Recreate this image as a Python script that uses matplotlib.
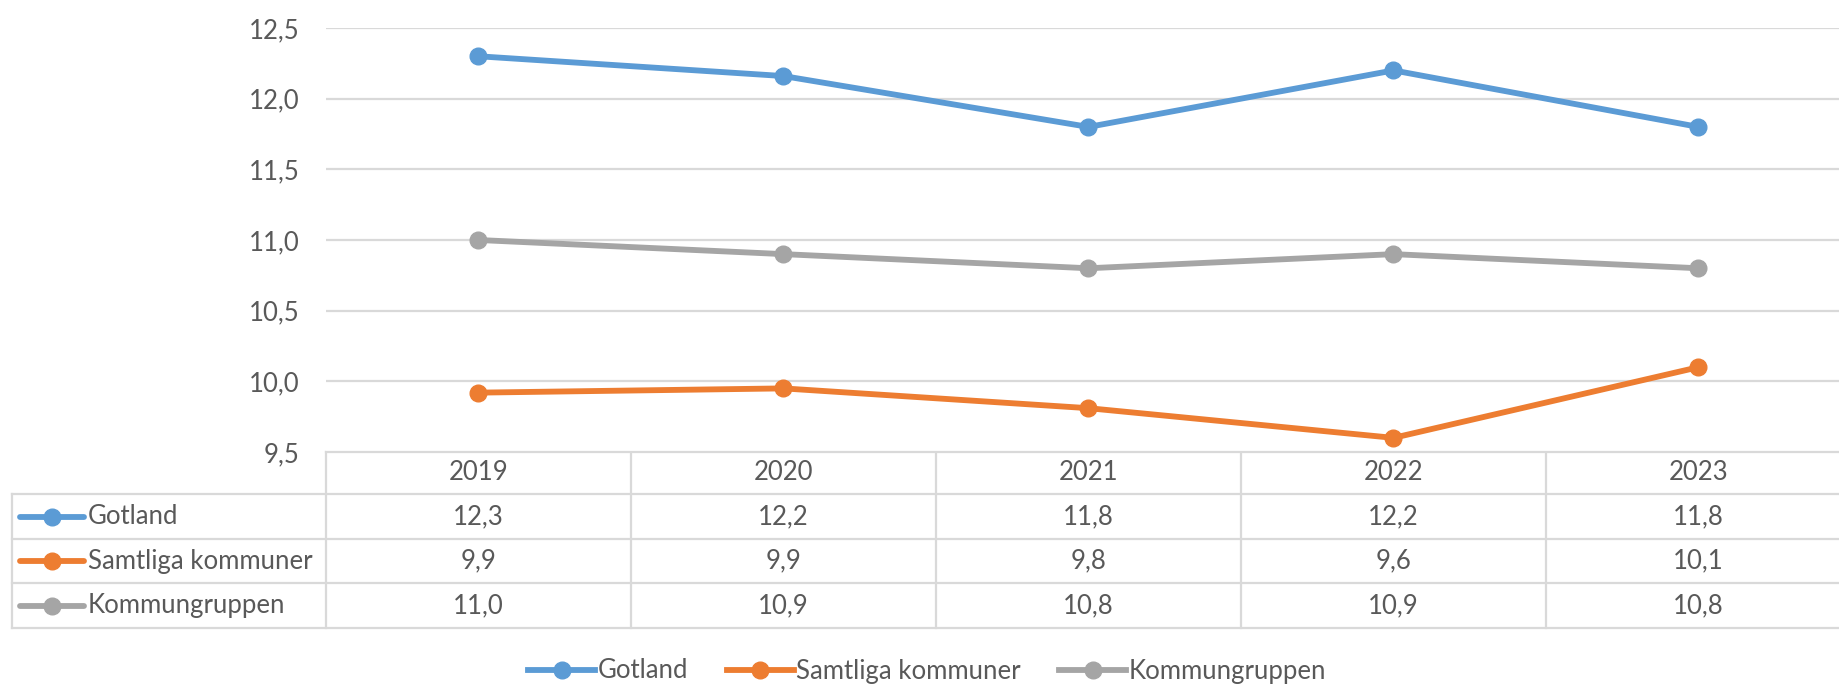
import matplotlib.pyplot as plt
from matplotlib.transforms import blended_transform_factory
from matplotlib.lines import Line2D

plt.rcParams['font.family'] = ['Lato', 'DejaVu Sans']

# Data
years = ["2019", "2020", "2021", "2022", "2023"]
series_names = ["Gotland", "Samtliga kommuner", "Kommungruppen"]
gotland = [12.30, 12.16, 11.80, 12.20, 11.80]
samtliga = [9.92, 9.95, 9.81, 9.60, 10.10]
kommungruppen = [11.00, 10.90, 10.80, 10.90, 10.80]
table_text = [
    ["12,3", "12,2", "11,8", "12,2", "11,8"],
    ["9,9", "9,9", "9,8", "9,6", "10,1"],
    ["11,0", "10,9", "10,8", "10,9", "10,8"],
]
colors = ["#5b9bd5", "#ed7d31", "#a5a5a5"]
yticks = [9.5, 10.0, 10.5, 11.0, 11.5, 12.0, 12.5]

W, H = 1840, 684
fig = plt.figure(figsize=(W / 100, H / 100), dpi=100)
text_col = "#595959"
grid_col = "#d9d9d9"
fs = 18.5
lw = 4.2
ms = 12

# plot area (pixel layout)
left, right, top, bottom = 326, 1851, 28, 452
ax = fig.add_axes([left / W, 1 - bottom / H, (right - left) / W, (bottom - top) / H])
x = list(range(len(years)))
for vals, c, name in zip([gotland, samtliga, kommungruppen], colors, series_names):
    ax.plot(x, vals, color=c, lw=lw, marker="o", ms=ms, label=name,
            solid_capstyle="round", zorder=3)
ax.set_xlim(-0.5, len(years) - 0.5)
ax.set_ylim(9.5, 12.5)
ax.set_yticks(yticks)
ax.set_yticklabels([f"{v:.1f}".replace(".", ",") for v in yticks])
ax.tick_params(axis="y", length=0, pad=19, labelsize=fs, labelcolor=text_col)
ax.set_xticks([])
ax.grid(axis="y", color=grid_col, lw=1.6)
ax.set_axisbelow(True)
for s in ax.spines.values():
    s.set_visible(False)

# table overlay in pixel coords
tab = fig.add_axes([0, 0, 1, 1], zorder=-1)
tab.set_xlim(0, W)
tab.set_ylim(H, 0)
tab.axis("off")
bt = blended_transform_factory(ax.transData, tab.transData)
row_y = [452, 494, 539, 583, 628]
lc = dict(color=grid_col, lw=1.6)
# horizontal lines
tab.plot([left, W], [row_y[0], row_y[0]], **lc)
for yy in row_y[1:]:
    tab.plot([12, W], [yy, yy], **lc)
# vertical lines
tab.plot([12, 12], [row_y[1], row_y[-1]], **lc)
for i in range(len(years) + 1):
    tab.plot([i - 0.5, i - 0.5], [row_y[0], row_y[-1]], transform=bt, **lc)

# header
for i, yr in enumerate(years):
    tab.text(i, (row_y[0] + row_y[1]) / 2, yr, transform=bt, ha="center",
             va="center", fontsize=fs, color=text_col)
# rows
for r, (name, c) in enumerate(zip(series_names, colors)):
    yc = (row_y[r + 1] + row_y[r + 2]) / 2
    tab.plot([20, 84], [yc, yc], color=c, lw=lw, solid_capstyle="round")
    tab.plot([52], [yc], color=c, marker="o", ms=ms)
    tab.text(88, yc, name, ha="left", va="center", fontsize=fs, color=text_col)
    for i, t in enumerate(table_text[r]):
        tab.text(i, yc, t, transform=bt, ha="center", va="center",
                 fontsize=fs, color=text_col)

# bottom legend
handles = [Line2D([], [], color=c, lw=lw, marker="o", ms=ms) for c in colors]
leg = fig.legend(handles, series_names, loc="center", ncol=3,
                 bbox_to_anchor=(0.504, 1 - 671 / H), frameon=False,
                 fontsize=fs, handlelength=2.6, handletextpad=0.1,
                 columnspacing=1.5)
for t in leg.get_texts():
    t.set_color(text_col)

plt.savefig("out.png", dpi=100)
